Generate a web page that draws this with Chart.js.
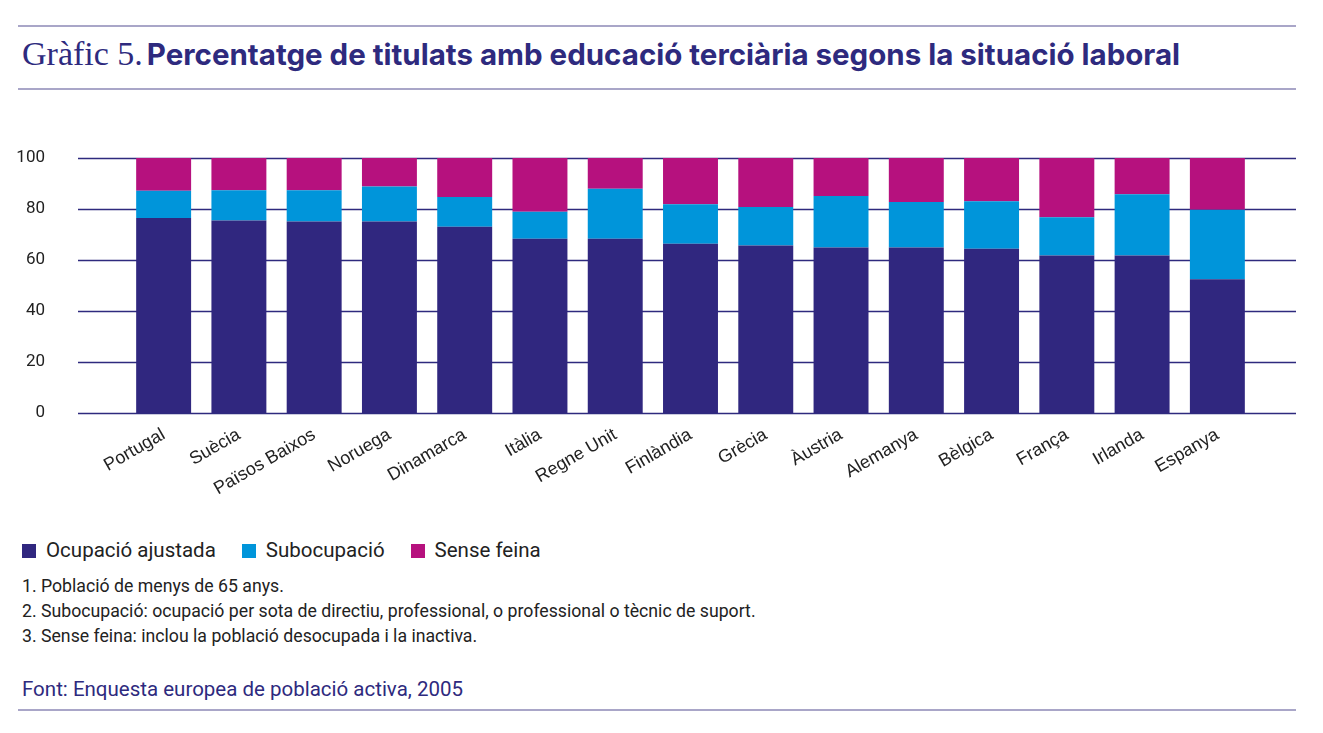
<!DOCTYPE html>
<html lang="ca">
<head>
<meta charset="utf-8">
<title>Gràfic 5</title>
<script src="https://cdn.jsdelivr.net/npm/chart.js@4.4.1/dist/chart.umd.min.js"></script>
<style>
    html, body { margin: 0; padding: 0; background: #fff; }
    body { width: 1323px; height: 733px; position: relative; overflow: hidden; font-family: Roboto, "Liberation Sans", sans-serif; color: #222; }
    .rule { position: absolute; left: 18px; width: 1278px; height: 0; border-top: 2px solid #a9a6c8; }
    #title { position: absolute; left: 22px; top: 35px; white-space: nowrap; color: #2e2a7e; }
    #title .num { font-family: "Liberation Serif", "DejaVu Serif", serif; font-size: 34px; }
    #title .txt { font-family: Inter, Roboto, sans-serif; font-weight: 700; font-size: 29.5px; }
    #chartBox { position: absolute; left: 0; top: 100px; width: 1323px; height: 420px; }
    #legend { position: absolute; left: 22px; top: 538px; font-size: 20.5px; white-space: nowrap; }
    #legend span { display: inline-block; margin-right: 26px; }
    #legend i { display: inline-block; width: 14px; height: 14px; margin-right: 10px; vertical-align: -1px; }
    .note { position: absolute; left: 22px; font-size: 17.7px; white-space: nowrap; }
    #source { position: absolute; left: 22px; top: 677px; font-size: 20.5px; color: #2e2a7e; white-space: nowrap; }
</style>
</head>
<body>
<div class="rule" style="top:25px"></div>
<div id="title"><span class="num">Gràfic 5.</span> <span class="txt">Percentatge de titulats amb educació terciària segons la situació laboral</span></div>
<div class="rule" style="top:88px"></div>

<div id="chartBox"><canvas id="labourChart"></canvas></div>

<div id="legend"></div>
<div class="note" style="top:576px">1. Població de menys de 65 anys.</div>
<div class="note" style="top:601px">2. Subocupació: ocupació per sota de directiu, professional, o professional o tècnic de suport.</div>
<div class="note" style="top:626px">3. Sense feina: inclou la població desocupada i la inactiva.</div>
<div id="source">Font: Enquesta europea de població activa, 2005</div>
<div class="rule" style="top:709px"></div>

<script>
// Data (percentages)
const countries = ['Portugal', 'Suècia', 'Països Baixos', 'Noruega', 'Dinamarca', 'Itàlia', 'Regne Unit',
    'Finlàndia', 'Grècia', 'Àustria', 'Alemanya', 'Bèlgica', 'França', 'Irlanda', 'Espanya'];
const ocupacioAjustada = [76.5, 75.5, 75.1, 75.1, 73.0, 68.3, 68.3, 66.4, 65.7, 64.9, 64.9, 64.4, 61.8, 61.8, 52.5];
const subocupacio = [10.7, 11.9, 12.3, 13.7, 11.7, 10.6, 19.6, 15.5, 15.1, 20.2, 17.8, 18.6, 15.0, 24.0, 27.2];
const senseFeina = [12.8, 12.6, 12.6, 11.2, 15.3, 21.1, 12.1, 18.1, 19.2, 14.9, 17.3, 17.0, 23.2, 14.2, 20.3];
const yTicks = [0, 20, 40, 60, 80, 100];

const seriesNames = ['Ocupació ajustada', 'Subocupació', 'Sense feina'];
const seriesColors = ['#30277f', '#0095da', '#b6117e'];
const navy = '#2e2a7e';

// Gridlines wider than the bar area, plus y tick labels on the far left
const gridPlugin = {
    id: 'wideGrid',
    beforeDatasetsDraw(chart) {
        const ctx = chart.ctx;
        const y = chart.scales.y;
        ctx.save();
        ctx.strokeStyle = navy;
        ctx.lineWidth = 1.3;
        ctx.fillStyle = '#222';
        ctx.font = '17px Roboto, "Liberation Sans", sans-serif';
        ctx.textAlign = 'right';
        ctx.textBaseline = 'middle';
        yTicks.forEach(function(t) {
            const py = Math.round(y.getPixelForValue(t)) + 0.5;
            ctx.beginPath();
            ctx.moveTo(78, py);
            ctx.lineTo(1296, py);
            ctx.stroke();
            ctx.fillText(String(t), 45, py - 1);
        });
        ctx.restore();
    }
};

const datasets = [ocupacioAjustada, subocupacio, senseFeina].map(function(values, i) {
    return {
        label: seriesNames[i],
        data: values,
        backgroundColor: seriesColors[i],
        borderWidth: 0,
        categoryPercentage: 1,
        barPercentage: 0.73
    };
});

new Chart(document.getElementById('labourChart'), {
    type: 'bar',
    data: { labels: countries, datasets: datasets },
    plugins: [gridPlugin],
    options: {
        responsive: true,
        maintainAspectRatio: false,
        animation: false,
        layout: { padding: { left: 126, right: 68, top: 58, bottom: 7 } },
        scales: {
            x: {
                stacked: true,
                grid: { display: false, drawTicks: false },
                border: { display: false },
                afterFit: function(scale) { scale.height = 100; },
                ticks: {
                    color: '#222',
                    font: { family: '"Liberation Sans", Arial, sans-serif', size: 18 },
                    minRotation: 30,
                    maxRotation: 30,
                    padding: 11,
                    autoSkip: false
                }
            },
            y: {
                stacked: true,
                display: false,
                min: 0,
                max: 100
            }
        },
        plugins: {
            legend: { display: false },
            tooltip: { enabled: false }
        }
    }
});

// HTML legend
const legend = document.getElementById('legend');
seriesNames.forEach(function(name, i) {
    const item = document.createElement('span');
    item.innerHTML = '<i style="background:' + seriesColors[i] + '"></i>' + name;
    legend.appendChild(item);
});
</script>
</body>
</html>
